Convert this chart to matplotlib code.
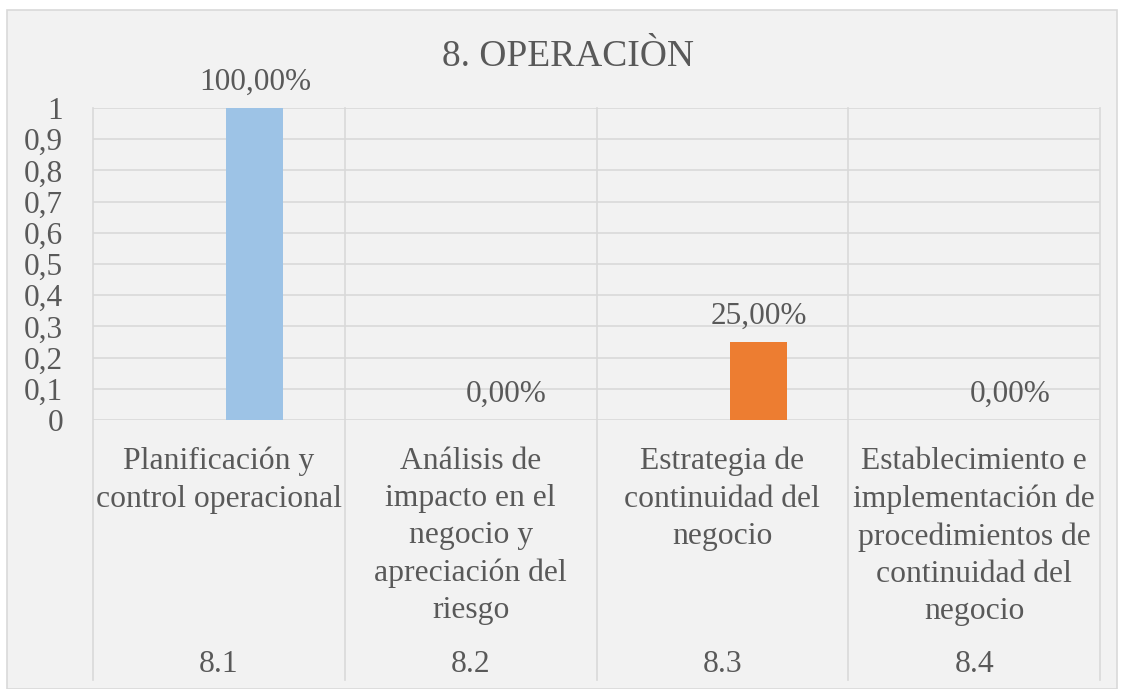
import matplotlib
matplotlib.use("Agg")
import matplotlib.pyplot as plt
from matplotlib.patches import Rectangle
from matplotlib.lines import Line2D
import numpy as np

plt.rcParams['font.family'] = ['Liberation Serif', 'DejaVu Serif']

title = "8. OPERACIÒN"
codes = ["8.1", "8.2", "8.3", "8.4"]
names = ["Planificación y\ncontrol operacional",
         "Análisis de\nimpacto en el\nnegocio y\napreciación del\nriesgo",
         "Estrategia de\ncontinuidad del\nnegocio",
         "Establecimiento e\nimplementación de\nprocedimientos de\ncontinuidad del\nnegocio"]
values = [1.0, 0.0, 0.25, 0.0]
bar_colors = ["#9DC3E6", "#A5A5A5", "#ED7D31", "#FFC000"]
yticks = [0, 0.1, 0.2, 0.3, 0.4, 0.5, 0.6, 0.7, 0.8, 0.9, 1.0]

W, H = 1123, 689
fig = plt.figure(figsize=(W/100, H/100), dpi=100, facecolor="white")

# chart area background
bg = Rectangle((7/W, 0), (1117-7)/W, (H-10)/H, transform=fig.transFigure,
               facecolor="#F2F2F2", edgecolor="#D9D9D9", linewidth=1.2, zorder=-10)
fig.patches.append(bg)

left, right, top, zero = 93, 1100, 108, 420
ax = fig.add_axes([left/W, (H-zero)/H, (right-left)/W, (zero-top)/H])
ax.set_facecolor("none")
ax.set_zorder(5)

txt = "#595959"
grid = "#D9D9D9"
fs = 22.5
n = len(codes)
x = np.arange(n)
offset = 0.143
bw = 0.226
ax.bar(x + offset, values, width=bw, color=bar_colors, zorder=3)

ax.set_xlim(-0.5, n - 0.5)
ax.set_ylim(0, 1)
ax.set_yticks(yticks)
ax.set_yticklabels([("%g" % t).replace('.', ',') for t in yticks], fontsize=fs, color=txt)
ax.tick_params(axis='y', length=0, pad=21.5)
ax.tick_params(axis='x', length=0, labelbottom=False)
for s in ax.spines.values():
    s.set_visible(False)
for t in yticks:
    ax.axhline(t, color=grid, lw=1.2, zorder=1)

# vertical separators (plot + category area)
bot_px = 680
for b in np.arange(-0.5, n, 1.0):
    ax.add_line(Line2D([b, b], [1, 0 - (bot_px - zero)/(zero - top)], color=grid, lw=1.2,
                       clip_on=False, zorder=1))

# data labels
for xi, v in zip(x, values):
    lab = ("%.2f%%" % (v*100)).replace('.', ',')
    ax.annotate(lab, (xi + offset, v), xytext=(0, 13), textcoords='offset points',
                ha='center', va='baseline', fontsize=fs, color=txt)

# category labels
per_px = 1.0/(zero - top)
for xi, nm, cd in zip(x, names, codes):
    ax.text(xi, -(447 - zero)*per_px, nm, ha='center', va='top', fontsize=fs + 0.3,
            color=txt, linespacing=1.37)
    ax.text(xi, -(672 - zero)*per_px, cd, ha='center', va='baseline', fontsize=fs + 0.3, color=txt)

fig.text(568/W, 1 - 66/H, title, ha='center', va='baseline', fontsize=27, color=txt)

fig.savefig("out.png", dpi=100, facecolor="white")
